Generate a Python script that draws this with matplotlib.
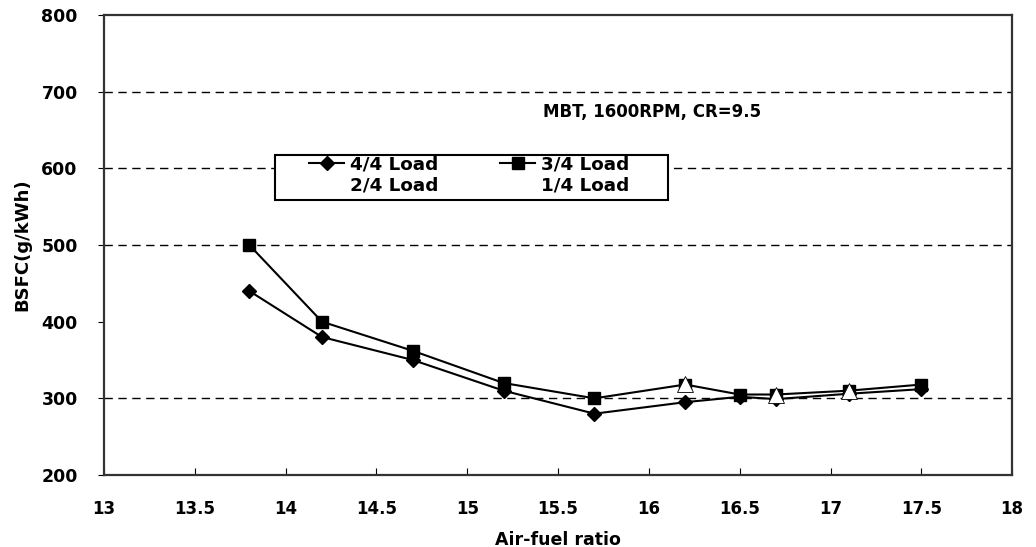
import matplotlib
matplotlib.use("Agg")
import matplotlib.pyplot as plt
from matplotlib.lines import Line2D
from matplotlib.patches import Rectangle

plt.rcParams['font.family'] = ['DejaVu Sans']
plt.rcParams['font.weight'] = 'bold'

# air-fuel ratio points
afr = [13.8, 14.2, 14.7, 15.2, 15.7, 16.2, 16.5, 16.7, 17.1, 17.5]
bsfc_44 = [440, 380, 350, 310, 280, 295, 302, 299, 306, 312]
bsfc_34 = [500, 400, 362, 320, 300, 318, 305, 305, 310, 318]
# lighter loads were drawn in white, only triangle edges show through
afr_24 = [16.2, 16.7, 17.1]
bsfc_24 = [319, 304, 309]

grid_levels = [300, 500, 600, 700]
xticks = [13, 13.5, 14, 14.5, 15, 15.5, 16, 16.5, 17, 17.5, 18]
xticklabels = ['13', '13.5', '14', '14.5', '15', '15.5', '16', '16.5', '17', '17.5', '18']
yticks = [200, 300, 400, 500, 600, 700, 800]

fig = plt.figure(figsize=(10.36, 5.47), dpi=100)
ax = fig.add_axes([0.1004, 0.1316, 0.8766, 0.841])

for g in grid_levels:
    ax.axhline(g, color='black', lw=1.0, ls=(0, (6, 4)), zorder=1)

ax.plot(afr, bsfc_34, color='black', lw=1.5, marker='s', ms=8, zorder=3)
ax.plot(afr, bsfc_44, color='black', lw=1.5, marker='D', ms=7, zorder=3)
ax.plot(afr_24, bsfc_24, color='white', lw=0, marker='^', ms=11,
        mfc='white', mec='black', mew=0.6, zorder=4)

ax.set_xlim(13, 18)
ax.set_ylim(200, 800)
ax.set_xticks(xticks)
ax.set_xticklabels(xticklabels)
ax.set_yticks(yticks)
ax.tick_params(axis='x', direction='in', length=5, pad=18, labelsize=12)
ax.tick_params(axis='y', direction='out', length=4, pad=15, labelsize=12.5)
for s in ax.spines.values():
    s.set_linewidth(1.6)
    s.set_color('#333333')

ax.set_xlabel('Air-fuel ratio', fontsize=12.5, fontweight='bold', labelpad=9)
ax.set_ylabel('BSFC(g/kWh)', fontsize=13, fontweight='bold', labelpad=7)

ax.text(16.02, 673, 'MBT, 1600RPM, CR=9.5', fontsize=12, fontweight='bold',
        ha='center', va='center')

# legend box drawn separately so its padding matches the original
ax.add_patch(Rectangle((0.188, 0.598), 0.433, 0.098, transform=ax.transAxes,
                       fill=True, facecolor='white', edgecolor='black',
                       lw=1.5, zorder=5))

handles = [
    Line2D([], [], color='black', lw=1.5, marker='D', ms=7),
    Line2D([], [], color='white', lw=1.5),
    Line2D([], [], color='black', lw=1.5, marker='s', ms=8),
    Line2D([], [], color='white', lw=1.5),
]
labels = ['4/4 Load', '2/4 Load', '3/4 Load', '1/4 Load']
leg = ax.legend(handles, labels, ncol=2, loc='upper left',
                bbox_to_anchor=(0.226, 0.694), frameon=False,
                handlelength=1.9, handletextpad=0.3, columnspacing=3.4,
                labelspacing=0.15, borderpad=0, borderaxespad=0,
                prop={'weight': 'bold', 'size': 13.2})
leg.set_zorder(6)

fig.savefig('out.png', dpi=100)
